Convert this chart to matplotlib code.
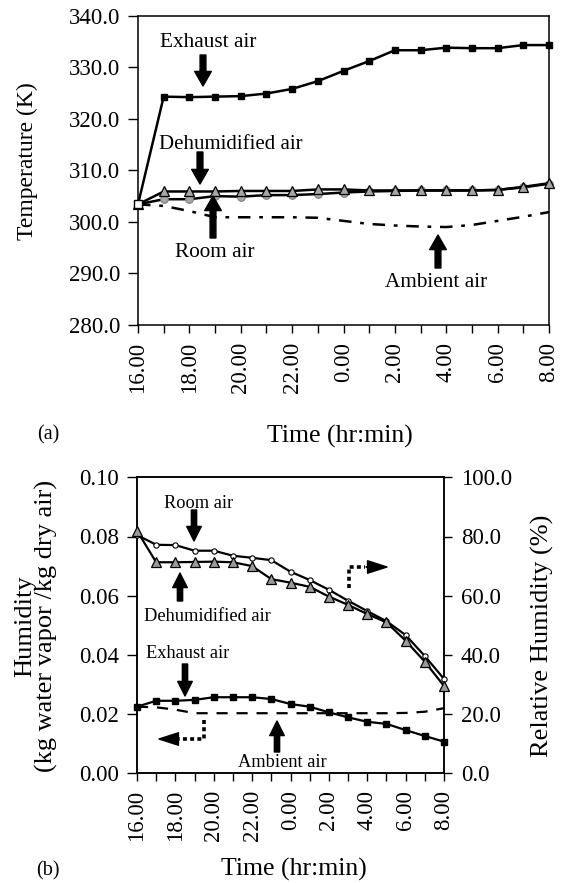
import matplotlib
matplotlib.use("Agg")
import matplotlib.pyplot as plt
from matplotlib.patches import FancyArrowPatch
from matplotlib.lines import Line2D
from matplotlib.ticker import FormatStrFormatter
import numpy as np

plt.rcParams['font.family'] = ['Liberation Serif', 'DejaVu Serif']

# ---------------- data ----------------
time_labels = ["16.00", "18.00", "20.00", "22.00", "0.00", "2.00", "4.00", "6.00", "8.00"]
hours = list(range(17))  # hourly readings from 16:00 to 8:00

# (a) temperature, K
exhaust_T = [303.4, 324.3, 324.2, 324.3, 324.4, 324.9, 325.8, 327.3, 329.3, 331.2,
             333.3, 333.3, 333.8, 333.7, 333.7, 334.3, 334.3]
dehum_T = [303.4, 305.9, 305.9, 305.9, 306.0, 306.0, 306.0, 306.3, 306.3, 306.1,
           306.1, 306.1, 306.1, 306.1, 306.2, 306.8, 307.5]
room_T = [303.4, 304.4, 304.4, 305.0, 304.9, 305.2, 305.2, 305.4, 305.7, 305.9,
          306.0, 306.1, 306.1, 306.1, 306.2, 306.7, 307.4]
ambient_T = [303.4, 303.1, 302.1, 300.9, 300.9, 300.9, 300.9, 300.8, 300.2, 299.6,
             299.3, 299.1, 299.0, 299.4, 300.2, 301.0, 301.9]

# (b) relative humidity, %
room_RH = [80.5, 77.2, 77.1, 75.2, 75.2, 73.5, 72.8, 72.0, 68.1, 65.3,
           62.0, 58.3, 54.8, 51.4, 46.7, 39.6, 31.9]
dehum_RH = [81.9, 71.3, 71.3, 71.4, 71.5, 71.3, 70.0, 65.6, 64.4, 63.0,
            59.7, 56.9, 53.8, 51.0, 44.8, 37.7, 29.5]
# (b) humidity ratio, kg water vapor / kg dry air
exhaust_H = [0.0225, 0.0245, 0.0245, 0.0248, 0.0257, 0.0257, 0.0257, 0.0251, 0.0234, 0.0225,
             0.0206, 0.0189, 0.0174, 0.0167, 0.0146, 0.0126, 0.0107]
ambient_H = [0.0225, 0.0223, 0.0215, 0.0203, 0.0203, 0.0203, 0.0203, 0.0203, 0.0203, 0.0203,
             0.0203, 0.0203, 0.0203, 0.0203, 0.0204, 0.0208, 0.0220]

# ---------------- figure ----------------
W, H = 564, 883
fig = plt.figure(figsize=(W / 100, H / 100), dpi=100)


def P(x, y):
    return (x / W, 1 - y / H)


def rect(l, t, r, b):
    return [l / W, 1 - b / H, (r - l) / W, (b - t) / H]


TICK_FS = 16.5
GREY = '#a6a6a6'

ax1 = fig.add_axes(rect(138, 15.7, 549, 325))
ax2 = fig.add_axes(rect(137, 477.3, 444, 773.3))
ax2r = ax2.twinx()

# ---- (a) ----
ax1.plot(hours, ambient_T, color='black', lw=1.8, ls=(0, (5, 3.5, 1.5, 3.5)), clip_on=False, zorder=2)
ax1.plot(hours, room_T, color='black', lw=1.8, marker='o', ms=5.5, mfc=GREY, mec='#808080',
         mew=0.8, clip_on=False, zorder=3)
ax1.plot(hours, dehum_T, color='black', lw=1.8, marker='^', ms=6.5, mfc=GREY, mec='black',
         mew=0.9, clip_on=False, zorder=4)
ax1.plot(hours, exhaust_T, color='black', lw=1.8, marker='s', ms=5, mfc='black', mec='black',
         clip_on=False, zorder=5)
ax1.plot(hours[:1], exhaust_T[:1], ls='none', marker='s', ms=6, mfc='white', mec='black',
         mew=1.0, clip_on=False, zorder=6)

ax1.set_xlim(0, 16)
ax1.set_ylim(280, 340)
ax1.set_yticks(np.arange(280, 341, 10))
ax1.yaxis.set_major_formatter(FormatStrFormatter('%.1f'))
ax1.set_xticks(range(0, 17, 2))
ax1.set_xticklabels(time_labels, rotation=90)
ax1.set_xticks(range(1, 17, 2), minor=True)
ax1.tick_params(which='both', direction='out', length=6, width=1, labelsize=TICK_FS, pad=6)
ax1.tick_params(axis='y', length=7)
ax1.set_ylabel('Temperature (K)', fontsize=17, va='center', ha='center')
ax1.yaxis.set_label_coords((27 - 138) / 411, (325 - 161) / 309.3)
ax1.set_xlabel('Time (hr:min)', fontsize=18.5, va='center', ha='center')
ax1.xaxis.set_label_coords((340 - 138) / 411, (325 - 436) / 309.3)
for s in ax1.spines.values():
    s.set_linewidth(1.1)

# ---- (b) ----
ax2r.plot(hours, room_RH, color='black', lw=1.6, marker='o', ms=3.8, mfc='white', mec='black',
          mew=0.8, clip_on=False, zorder=3)
ax2r.plot(hours, dehum_RH, color='black', lw=1.6, marker='^', ms=6.5, mfc='#9a9a9a', mec='black',
          mew=0.9, clip_on=False, zorder=4)
ax2.plot(hours, ambient_H, color='black', lw=1.6, ls=(0, (5, 4)), clip_on=False, zorder=2)
ax2.plot(hours, exhaust_H, color='black', lw=1.6, marker='s', ms=5, mfc='black', mec='black',
         clip_on=False, zorder=3)

ax2.set_xlim(0, 16)
ax2.set_ylim(0, 0.10)
ax2.set_yticks(np.arange(0, 0.101, 0.02))
ax2.yaxis.set_major_formatter(FormatStrFormatter('%.2f'))
ax2r.set_ylim(0, 100)
ax2r.set_yticks(np.arange(0, 101, 20))
ax2r.yaxis.set_major_formatter(FormatStrFormatter('%.1f'))
ax2.set_xticks(range(0, 17, 2))
ax2.set_xticklabels(time_labels, rotation=90)
ax2.set_xticks(range(1, 17, 2), minor=True)
ax2.tick_params(which='both', direction='out', length=6, width=1, labelsize=TICK_FS, pad=6)
ax2.tick_params(axis='y', length=7)
ax2r.tick_params(direction='out', length=6, width=1, labelsize=TICK_FS, pad=6)
ax2.set_ylabel('Humidity\n(kg water vapor /kg dry air)', fontsize=19, va='center', ha='center',
               linespacing=0.95)
ax2.yaxis.set_label_coords((36 - 137) / 307, (773.3 - 626) / 296)
ax2r.set_ylabel('Relative Humidity (%)', fontsize=19, va='center', ha='center')
ax2r.yaxis.set_label_coords((542 - 137) / 307, (773.3 - 636) / 296)
ax2.set_xlabel('Time (hr:min)', fontsize=18.5, va='center', ha='center')
ax2.xaxis.set_label_coords((294 - 137) / 307, (773.3 - 869) / 296)
for a in (ax2, ax2r):
    for s in a.spines.values():
        s.set_linewidth(1.1)

# ---- panel letters ----
fig.text(*P(48, 435), '(a)', fontsize=14.5, ha='center', va='center')
fig.text(*P(48, 871), '(b)', fontsize=14.5, ha='center', va='center')


# ---- annotations ----
def label(x, y, s, fs):
    fig.text(*P(x, y), s, fontsize=fs, ha='center', va='baseline')


def block_arrow(x, y0, y1, big=True):
    style = ('simple,head_length=10.5,head_width=12,tail_width=4.2' if big
             else 'simple,head_length=10.5,head_width=10.5,tail_width=3.8')
    fig.patches.append(FancyArrowPatch(P(x, y0), P(x, y1), transform=fig.transFigure,
                                       arrowstyle=style, mutation_scale=1, color='black',
                                       shrinkA=0, shrinkB=0, zorder=10))


label(208.5, 47, 'Exhaust air', 15.3)
block_arrow(203, 55, 86)
label(231, 149, 'Dehumidified air', 15.0)
block_arrow(200, 152, 184)
label(215, 257, 'Room air', 15.3)
block_arrow(213, 238, 196)
label(436, 287, 'Ambient air', 15.3)
block_arrow(438, 268, 235)

label(199, 508, 'Room air', 13.2)
block_arrow(194, 510, 541, big=False)
label(207.5, 621, 'Dehumidified air', 13.2)
block_arrow(180, 601, 573, big=False)
label(188, 658, 'Exhaust air', 13.2)
block_arrow(185, 664, 696, big=False)
label(282.5, 767, 'Ambient air', 13.2)
block_arrow(277, 752, 721, big=False)


def dotted(xs, ys):
    pts = [P(x, y) for x, y in zip(xs, ys)]
    fig.lines.append(Line2D([p[0] for p in pts], [p[1] for p in pts], transform=fig.transFigure,
                            color='black', lw=2.6, ls=(0, (1.1, 0.9)), solid_capstyle='butt',
                            dash_capstyle='butt', zorder=10))


def head(x0, x1, y):
    fig.patches.append(FancyArrowPatch(P(x0, y), P(x1, y), transform=fig.transFigure,
                                       arrowstyle='simple,head_length=14,head_width=9,tail_width=0.1',
                                       mutation_scale=1, color='black', shrinkA=0, shrinkB=0,
                                       zorder=10))


dotted([349, 349, 365], [588, 567, 567])
head(366, 387, 567)
dotted([204, 204, 178], [720, 739, 739])
head(177, 159, 739)

fig.savefig('out.png', dpi=100)
